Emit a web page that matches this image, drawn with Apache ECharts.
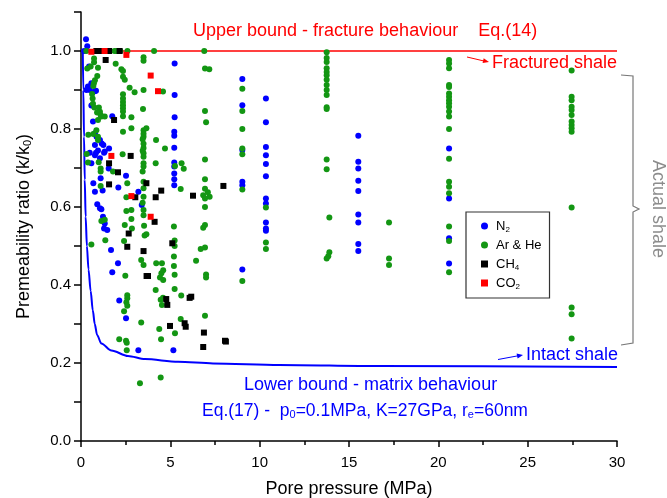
<!DOCTYPE html>
<html><head><meta charset="utf-8">
<script src="https://cdn.jsdelivr.net/npm/echarts@6/dist/echarts.min.js"></script>
<style>html,body{margin:0;padding:0;background:#fff}#c{width:667px;height:498px}</style>
</head><body><div id="c"></div>
<script>
// ---- data (pressure MPa, permeability ratio k/k0) ----
const seriesNames = ['N2', 'Ar & He', 'CH4', 'CO2'];
const n2 = [
[0.28,1.03],[0.35,1.012],[0.17,1.0],[0.45,0.96],[0.58,0.917],[0.39,0.909],[0.3,0.9],[0.49,0.9],[0.77,0.897],[0.84,0.898],
[0.58,0.86],[0.67,0.819],[1.75,0.833],
[0.78,0.789],[0.87,0.78],[1.06,0.772],[0.78,0.759],[1.16,0.763],[1.25,0.759],[1.57,0.75],[1.33,0.742],[0.49,0.739],[0.95,0.745],[0.84,0.739],[1.06,0.725],[1.29,0.739],[0.78,0.733],[0.58,0.712],
[1.55,0.699],[1.1,0.674],[2.52,0.68],[0.69,0.661],[0.78,0.639],[1.21,0.642],[2.09,0.65],[3.21,0.639],[3.4,0.605],[0.91,0.607],[1.06,0.597],[1.14,0.594],[1.23,0.575],[1.33,0.558],[1.29,0.545],[1.47,0.541],[1.68,0.49],[2.07,0.456],[1.75,0.433],[2.14,0.36],[2.52,0.315],[3.21,0.233],[5.17,0.233],
[5.24,0.968],[5.24,0.887],[5.24,0.83],[5.22,0.793],[5.22,0.783],[5.22,0.752],[5.22,0.714],[5.22,0.704],[5.22,0.686],[5.22,0.671],[5.22,0.656],
[9.03,0.928],[9.03,0.861],[9.03,0.746],[9.03,0.665],[9.03,0.656],[9.03,0.44],
[10.35,0.878],[10.35,0.817],[10.35,0.754],[10.35,0.733],[10.35,0.71],[10.35,0.679],[10.35,0.622],[10.35,0.609],[10.35,0.56],[10.35,0.545],[10.35,0.539],
[15.52,0.783],[15.52,0.716],[15.52,0.699],[15.52,0.667],[15.52,0.641],[15.52,0.581],[15.52,0.56],[15.52,0.505],[15.52,0.487],
[20.6,0.75],[20.6,0.622],[20.6,0.52],[20.6,0.455]
];
const arHe = [
[0.3,1.0],[1.87,1.0],[1.98,1.0],[2.2,1.0],[2.6,1.0],[4.09,1.0],[6.9,1.0],[13.75,0.997],
[0.73,0.981],[0.73,0.971],[3.5,0.984],[3.5,0.975],[0.54,0.96],[0.95,0.957],[1.94,0.967],[0.35,0.955],[6.94,0.955],[7.18,0.953],[2.26,0.953],[2.35,0.949],[2.35,0.934],[2.45,0.926],[0.91,0.936],[0.78,0.925],[0.72,0.917],[0.69,0.91],[2.72,0.906],[3.0,0.894],[3.5,0.9],[4.59,0.896],[9.03,0.903],
[2.35,0.889],[2.35,0.878],[2.35,0.869],[2.35,0.861],[2.35,0.853],[2.35,0.845],[2.35,0.833],
[0.62,0.89],[0.65,0.878],[0.67,0.865],[0.75,0.855],[1.0,0.855],[1.06,0.844],[0.9,0.842],[1.1,0.836],[0.95,0.823],[1.14,0.832],[1.33,0.832],
[3.47,0.851],[2.82,0.83],[6.94,0.846],[7.0,0.817],[9.03,0.846],
[13.75,0.982],[13.75,0.972],[13.75,0.956],[13.75,0.946],[13.75,0.938],[13.75,0.926],[13.75,0.913],[13.75,0.9],[13.75,0.887],[13.75,0.856],[13.75,0.851],[13.75,0.722],[13.75,0.697],[13.9,0.573],[13.9,0.484],[13.84,0.474],[13.75,0.468],
[20.6,0.977],[20.6,0.968],[20.6,0.956],[20.6,0.913],[20.6,0.908],[20.6,0.891],[20.6,0.883],[20.6,0.874],[20.6,0.866],[20.6,0.857],[20.6,0.845],[20.6,0.832],[20.6,0.8],[20.6,0.724],[20.6,0.665],[20.6,0.652],[20.6,0.635],[20.6,0.55],[20.6,0.513],[20.6,0.433],
[27.46,0.95],[27.46,0.883],[27.46,0.874],[27.46,0.857],[27.46,0.849],[27.46,0.836],[27.46,0.819],[27.46,0.81],[27.46,0.802],[27.46,0.793],[27.46,0.599],[27.46,0.342],[27.46,0.325],[27.46,0.263],
[17.24,0.56],[17.24,0.468],[17.24,0.451],
[3.5,0.797],[3.5,0.788],[3.5,0.78],[3.45,0.774],[3.5,0.762],[3.5,0.751],[3.45,0.744],[3.5,0.738],[3.5,0.729],[3.5,0.712],[3.5,0.704],[3.45,0.691],[3.5,0.665],[3.5,0.648],[3.5,0.626],[3.45,0.611],[3.5,0.592],[3.5,0.579],[3.53,0.552],[3.56,0.527],[3.66,0.53],[3.37,0.464],[3.5,0.451],[3.37,0.304],
[5.2,0.55],[5.24,0.514],[5.24,0.5],[5.2,0.473],[5.2,0.449],[5.24,0.426],[5.24,0.39],[5.26,0.276],[5.26,0.705],
[6.94,0.722],[6.94,0.671],[6.94,0.647],[7.1,0.638],[6.84,0.63],[7.2,0.626],[6.94,0.622],[6.94,0.6],[6.94,0.554],[6.84,0.547],[6.7,0.492],[6.94,0.496],[6.44,0.462],[7.0,0.427],[7.0,0.419],[6.94,0.321],
[9.03,0.8],[9.03,0.75],[9.03,0.735],[9.03,0.645],[9.03,0.41],
[10.35,0.599],[10.35,0.509],[10.35,0.492],
[4.2,0.772],[4.7,0.75],[2.33,0.735],[2.82,0.802],[2.35,0.793],[3.66,0.802],[4.18,0.712],[5.63,0.712],[5.75,0.698],[0.39,0.714],[0.99,0.715],[1.1,0.699],[1.1,0.691],[1.79,0.691],[1.1,0.654],[2.59,0.661],[2.54,0.625],[2.54,0.59],[2.82,0.592],[5.58,0.646],[1.14,0.564],[1.33,0.567],[2.82,0.569],[2.45,0.554],[2.85,0.545],[0.58,0.504],[1.36,0.515],[2.41,0.513],[4.21,0.456],[4.53,0.456],[2.48,0.424],[4.6,0.438],[4.5,0.43],[4.42,0.419],[4.6,0.413],[2.59,0.374],[2.59,0.366],[2.54,0.356],[2.59,0.347],[2.41,0.333],[4.18,0.387],[5.61,0.373],[4.46,0.362],[4.59,0.367],[4.53,0.349],[5.58,0.313],[4.38,0.287],[2.14,0.261],[2.52,0.257],[2.56,0.252],[2.56,0.233],[4.48,0.261],[3.3,0.148],[4.46,0.163],
[0.41,0.785],[0.69,0.787],[0.95,0.78],[0.86,0.797],[0.95,0.772],[0.32,0.736]
];
const ch4 = [
[0.86,1.0],[1.04,1.0],[1.57,1.0],[2.16,1.0],[1.38,0.977],[1.85,0.823],[2.78,0.731],[1.57,0.712],[2.07,0.689],[1.57,0.658],[3.66,0.661],[7.97,0.654],[6.27,0.629],[4.49,0.642],[4.18,0.625],[3.04,0.625],[4.12,0.562],[2.67,0.532],[5.11,0.507],[2.59,0.498],[3.5,0.487],[3.67,0.423],[3.75,0.423],[4.77,0.364],[4.83,0.349],[6.08,0.367],[6.17,0.37],[4.98,0.295],[5.8,0.302],[5.86,0.293],[6.88,0.278],[6.84,0.241],[8.06,0.257],[8.11,0.255]
];
const co2 = [[0.58,0.998],[1.32,1.0],[2.54,0.99],[3.9,0.937],[4.31,0.897],[1.7,0.731],[2.82,0.628],[3.9,0.575]];

// model bounds
const upperX = [0, 30];
const upperY = [1.0, 1.0];
const lowerX = [0.1, 0.13, 0.17, 0.21, 0.26, 0.33, 0.42, 0.54, 0.66, 0.77, 0.9, 1.14, 1.7, 2.63, 3.58, 5.43, 7.39, 11.1, 16.7, 30];
const lowerY = [1.0, 0.9, 0.78, 0.67, 0.575, 0.5, 0.44, 0.385, 0.335, 0.3, 0.272, 0.25, 0.232, 0.218, 0.21, 0.203, 0.199, 0.195, 0.192, 0.19];

// axes
const xMin = 0, xMax = 30, xStep = 5;
const yMin = 0, yMax = 1.1, yStep = 0.1;

const FONT = 'Liberation Sans, Arial, sans-serif';
const pairs = (xs, ys) => xs.map((x, i) => [x, ys[i]]);

const chart = echarts.init(document.getElementById('c'), null, {renderer: 'canvas'});
const subStyle = {fontSize: 8, lineHeight: 8, verticalAlign: 'bottom', fontFamily: FONT};
const legendText = {'N2': 'N{s|2}', 'Ar & He': 'Ar & He', 'CH4': 'CH{s|4}', 'CO2': 'CO{s|2}'};

const option = {
  animation: false,
  backgroundColor: '#fff',
  grid: {left: 81, right: 50, top: 12, bottom: 57, containLabel: false, outerBoundsMode: 'none'},
  xAxis: {
    type: 'value', min: xMin, max: xMax, interval: xStep,
    name: 'Pore pressure (MPa)', nameLocation: 'middle', nameGap: 39,
    nameTextStyle: {fontFamily: FONT, fontSize: 18, color: '#000'},
    axisLine: {show: true, onZero: false, lineStyle: {color: '#000', width: 1.5}},
    axisTick: {show: true, length: 6, lineStyle: {color: '#000', width: 1.5}},
    minorTick: {show: true, splitNumber: 2, length: 4, lineStyle: {color: '#000', width: 1.5}},
    axisLabel: {fontFamily: FONT, fontSize: 15, color: '#000', margin: 14},
    splitLine: {show: false}
  },
  yAxis: {
    type: 'value', min: yMin, max: yMax, interval: yStep,
    name: 'Premeability ratio (k/k{s|0})', nameLocation: 'middle', nameGap: 48,
    nameTextStyle: {fontFamily: FONT, fontSize: 18, color: '#000', rich: {s: {fontSize: 11, lineHeight: 10, verticalAlign: 'bottom', fontFamily: FONT, color: '#000'}}},
    axisLine: {show: true, onZero: false, lineStyle: {color: '#000', width: 1.5}},
    axisTick: {show: true, length: 7, lineStyle: {color: '#000', width: 1.5}},
    axisLabel: {fontFamily: FONT, fontSize: 15, color: '#000', margin: 10,
      formatter: v => { const r = Math.round(v * 10); return (r % 2 === 0 && r <= 10) ? (r / 10).toFixed(1) : ''; }},
    splitLine: {show: false}
  },
  legend: {
    data: [{name: 'N2', icon: 'circle'}, {name: 'Ar & He', icon: 'circle'}, {name: 'CH4', icon: 'rect'}, {name: 'CO2', icon: 'rect'}],
    orient: 'vertical', left: 466, top: 212, padding: [6, 8, 7, 15],
    itemWidth: 7, itemHeight: 7, itemGap: 3,
    borderColor: '#333', borderWidth: 1.2, borderRadius: 0, backgroundColor: '#fff',
    selectedMode: false,
    formatter: n => legendText[n],
    textStyle: {fontFamily: FONT, fontSize: 13, color: '#000', lineHeight: 16, padding: [0, 0, 0, 3], rich: {s: subStyle}}
  },
  series: [
    {type: 'line', name: 'upper', data: pairs(upperX, upperY), symbol: 'none', silent: true, z: 1,
      lineStyle: {color: '#ff0000', width: 1.5}},
    {type: 'line', name: 'lower', data: pairs(lowerX, lowerY), symbol: 'none', silent: true, z: 1,
      smooth: 0.3, smoothMonotone: 'x', lineStyle: {color: '#0000ff', width: 2}},
    {type: 'scatter', name: seriesNames[0], data: n2, symbol: 'circle', symbolSize: 6, z: 3, itemStyle: {color: '#0000ff', opacity: 1}},
    {type: 'scatter', name: seriesNames[1], data: arHe, symbol: 'circle', symbolSize: 6, z: 3, itemStyle: {color: '#139613', opacity: 1}},
    {type: 'scatter', name: seriesNames[2], data: ch4, symbol: 'rect', symbolSize: 6, z: 4, itemStyle: {color: '#000000', opacity: 1}},
    {type: 'scatter', name: seriesNames[3], data: co2, symbol: 'rect', symbolSize: 6, z: 5, itemStyle: {color: '#ff0000', opacity: 1}}
  ],
  graphic: [
    {type: 'text', x: 193, y: 31, style: {text: 'Upper bound - fracture behaviour    Eq.(14)', fill: '#ff0000', font: '18px ' + FONT, textVerticalAlign: 'middle'}},
    {type: 'text', x: 492, y: 63, style: {text: 'Fractured shale', fill: '#ff0000', font: '18px ' + FONT, textVerticalAlign: 'middle'}},
    {type: 'line', shape: {x1: 467, y1: 57, x2: 484, y2: 61}, style: {stroke: '#ff0000', lineWidth: 1}},
    {type: 'polygon', shape: {points: [[489, 62], [482.6, 63.1], [483.7, 58.3]]}, style: {fill: '#ff0000'}},
    {type: 'text', x: 526, y: 355, style: {text: 'Intact shale', fill: '#0000ff', font: '18px ' + FONT, textVerticalAlign: 'middle'}},
    {type: 'line', shape: {x1: 498, y1: 359.5, x2: 518, y2: 355.8}, style: {stroke: '#0000ff', lineWidth: 1}},
    {type: 'polygon', shape: {points: [[523, 355], [517.6, 358.6], [516.6, 353.6]]}, style: {fill: '#0000ff'}},
    {type: 'text', x: 244, y: 385, style: {text: 'Lower bound - matrix behaviour', fill: '#0000ff', font: '18px ' + FONT, textVerticalAlign: 'middle'}},
    {type: 'text', x: 202, y: 411, style: {text: 'Eq.(17) -  p{s|0}=0.1MPa, K=27GPa, r{s|e}=60nm', fill: '#0000ff', font: '17.5px ' + FONT, fontSize: 17.5, fontFamily: FONT, textVerticalAlign: 'middle',
      rich: {s: {fontSize: 11, lineHeight: 11, verticalAlign: 'bottom', fontFamily: FONT, fill: '#0000ff'}}}},
    {type: 'polyline', shape: {points: [[621, 75], [633, 76], [633, 206], [639, 209], [633, 212], [633, 343], [621, 345]]}, style: {stroke: '#777', lineWidth: 1.2, fill: null}},
    {type: 'text', x: 658, y: 209, rotation: -Math.PI / 2, style: {text: 'Actual shale', fill: '#8c8c8c', font: '18px ' + FONT, textAlign: 'center', textVerticalAlign: 'middle'}}
  ]
};
chart.setOption(option);
</script>
</body></html>
